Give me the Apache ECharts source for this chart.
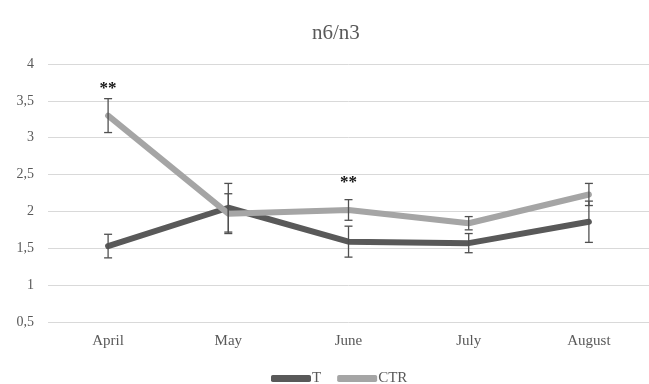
<!DOCTYPE html>
<html><head><meta charset="utf-8">
<script src="https://cdn.jsdelivr.net/npm/echarts@6/dist/echarts.min.js"></script>
<style>html,body{margin:0;padding:0;background:#fff}#c{width:649px;height:384px}</style>
</head><body><div id="c"></div>
<script>
var categories = ['April', 'May', 'June', 'July', 'August'];
var seriesT = [1.53, 2.05, 1.59, 1.57, 1.86];
var errT = [0.16, 0.33, 0.21, 0.13, 0.28];
var seriesCTR = [3.30, 1.97, 2.02, 1.84, 2.23];
var errCTR = [0.23, 0.27, 0.14, 0.09, 0.15];
var sigLabels = ['**', '', '**', '', ''];
var sigY = [3.67, null, 2.39, null, null];
var yTicks = [0.5, 1, 1.5, 2, 2.5, 3, 3.5, 4];

var font = '"Liberation Serif", "Times New Roman", serif';
var chart = echarts.init(document.getElementById('c'));

function errSeries(vals, errs, z) {
  return {
    type: 'custom', z: z, silent: true,
    data: vals.map(function (v, i) { return [i, v - errs[i], v + errs[i]]; }),
    renderItem: function (params, api) {
      var lo = api.coord([api.value(0), api.value(1)]);
      var hi = api.coord([api.value(0), api.value(2)]);
      var x = lo[0], w = 4;
      var st = { stroke: '#505050', lineWidth: 1.3 };
      return { type: 'group', children: [
        { type: 'line', shape: { x1: x, y1: lo[1], x2: x, y2: hi[1] }, style: st },
        { type: 'line', shape: { x1: x - w, y1: lo[1], x2: x + w, y2: lo[1] }, style: st },
        { type: 'line', shape: { x1: x - w, y1: hi[1], x2: x + w, y2: hi[1] }, style: st }
      ]};
    }
  };
}

chart.setOption({
  animation: false,
  backgroundColor: '#fff',
  title: {
    text: 'n6/n3', left: 307, top: 18,
    textStyle: { fontFamily: font, fontSize: 21, fontWeight: 'normal', color: '#595959' }
  },
  legend: {
    data: ['T', 'CTR'], top: 366, left: 266, itemGap: 16,
    itemWidth: 40, itemHeight: 7, icon: 'roundRect',
    textStyle: { fontFamily: font, fontSize: 15, color: '#595959', padding: [0, 0, 0, -4] }
  },
  grid: { left: 48, width: 605, top: 64, bottom: 62, containLabel: false },
  xAxis: {
    type: 'category', data: categories, boundaryGap: true,
    axisLine: { show: false }, axisTick: { show: false },
    axisLabel: { fontFamily: font, fontSize: 15, color: '#595959', margin: 12 }
  },
  yAxis: {
    type: 'value', min: 0.5, max: 4, interval: 0.5,
    axisLine: { show: false }, axisTick: { show: false },
    splitLine: { lineStyle: { color: '#d9d9d9', width: 1 } },
    axisLabel: {
      fontFamily: font, fontSize: 14, color: '#595959', margin: 14,
      formatter: function (v) { return String(v).replace('.', ','); }
    }
  },
  series: [
    { name: 'T', type: 'line', data: seriesT, symbol: 'none', z: 3,
      itemStyle: { color: '#595959' },
      lineStyle: { width: 6, color: '#595959', cap: 'round', join: 'round' } },
    { name: 'CTR', type: 'line', data: seriesCTR, symbol: 'none', z: 4,
      itemStyle: { color: '#a5a5a5' },
      lineStyle: { width: 6, color: '#a5a5a5', cap: 'round', join: 'round' } },
    errSeries(seriesT, errT, 5),
    errSeries(seriesCTR, errCTR, 6),
    { type: 'custom', z: 7, silent: true,
      data: sigY.map(function (v, i) { return [i, v == null ? 0 : v, sigLabels[i]]; }),
      renderItem: function (params, api) {
        var i = params.dataIndex;
        if (!sigLabels[i]) return null;
        var p = api.coord([i, sigY[i]]);
        return { type: 'text', style: { x: p[0], y: p[1], text: sigLabels[i], align: 'center', verticalAlign: 'middle',
          font: 'bold 17px ' + font, fill: '#111', letterSpacing: 3 } };
      }
    }
  ]
});
</script></body></html>
